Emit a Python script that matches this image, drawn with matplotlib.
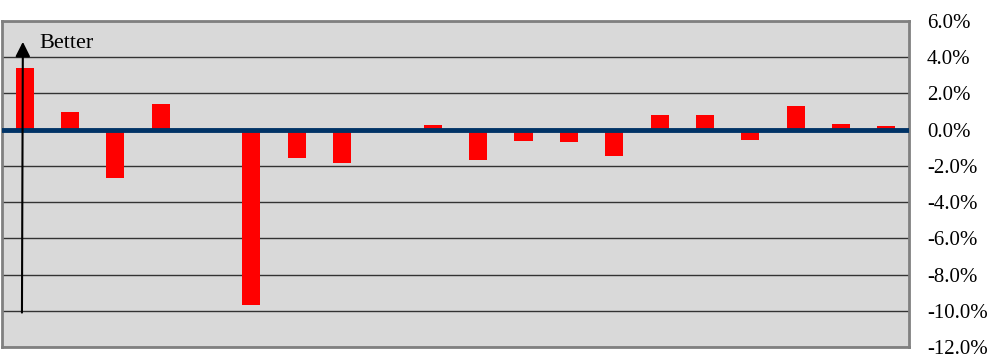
import matplotlib.pyplot as plt
import numpy as np
from matplotlib.ticker import FuncFormatter

# bar values in percent, 20 slots (zero = no bar)
values = [3.4, 1.0, -2.65, 1.4, 0.0, -9.7, -1.55, -1.85, 0.0, 0.25,
          -1.7, -0.6, -0.67, -1.45, 0.82, 0.82, -0.55, 1.28, 0.29, 0.23]
y_ticks = [6, 4, 2, 0, -2, -4, -6, -8, -10, -12]

plt.rcParams['font.family'] = ['Liberation Serif', 'DejaVu Serif']

fig = plt.figure(figsize=(10.02, 3.55), dpi=100)
ax = fig.add_axes([2 / 1002, 8 / 355, 907 / 1002, 326 / 355])
ax.set_facecolor('#D9D9D9')

x = np.arange(len(values))
ax.bar(x, values, width=0.4, color='#FF0000', zorder=3)
ax.axhline(0, color='#003366', linewidth=3.5, zorder=4)

ax.set_xlim(-0.5, len(values) - 0.5)
ax.set_ylim(-12, 6)
ax.set_yticks(y_ticks)
ax.yaxis.set_major_formatter(FuncFormatter(lambda v, p: f"{v:.1f}%"))
ax.yaxis.tick_right()
ax.tick_params(axis='y', length=0, pad=13, labelsize=15)
ax.set_xticks([])
ax.grid(axis='y', color='#333333', linewidth=1, zorder=1)

for s in ax.spines.values():
    s.set_color('#808080')
    s.set_linewidth(2)

# "Better" arrow
ax.annotate('', xy=(-0.04, 4.85), xytext=(-0.06, -10.1),
            arrowprops=dict(arrowstyle='-|>', color='black', lw=1.5,
                            mutation_scale=22, shrinkA=0, shrinkB=0), zorder=5)
ax.text(0.33, 4.5, 'Better', fontsize=16, va='baseline', ha='left', zorder=5)

fig.savefig('out.png', dpi=100)
